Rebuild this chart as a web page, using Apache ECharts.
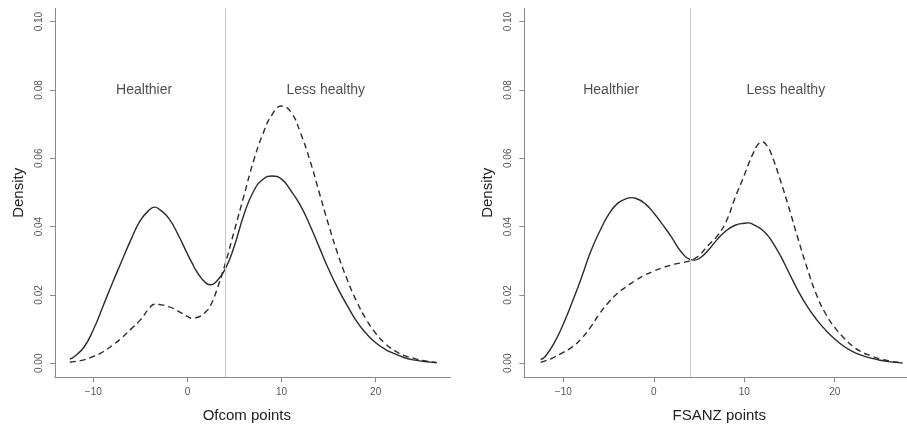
<!DOCTYPE html>
<html>
<head>
<meta charset="utf-8">
<script src="https://cdn.jsdelivr.net/npm/echarts@6/dist/echarts.min.js"></script>
<style>html,body{margin:0;padding:0;background:#fff;}#chart{width:907px;height:429px;}</style>
</head>
<body>
<div id="chart"></div>
<script>
// ---- Data ----
const xTicks = [-10, 0, 10, 20];
const yTicks = [0, 0.02, 0.04, 0.06, 0.08, 0.10];
const threshold = 4;

const ofcomX = [-12.5,-12,-11,-10,-9,-8,-7,-6,-5,-4,-3.5,-3,-2,-1,0,0.5,1,2,2.5,3,4,5,6,7,8,9,10,11,12,13,14,15,16,17,18,19,20,21,22,23,24,25,26,26.5];
const ofcomSolid = [0.0012,0.0020,0.0047,0.0098,0.0165,0.0233,0.0298,0.0362,0.0418,0.0450,0.0457,0.0451,0.0425,0.0377,0.0320,0.0293,0.0268,0.0234,0.0230,0.0237,0.0275,0.0345,0.0435,0.0502,0.0538,0.0548,0.0539,0.0505,0.0462,0.0405,0.0340,0.0275,0.0218,0.0168,0.0122,0.0087,0.0060,0.0041,0.0028,0.0017,0.0010,0.0006,0.0003,0.0002];
const ofcomDashed = [0.0003,0.0005,0.0010,0.0020,0.0033,0.0052,0.0074,0.0100,0.0127,0.0163,0.0173,0.0172,0.0166,0.0153,0.0137,0.0132,0.0134,0.0152,0.0172,0.0205,0.0290,0.0390,0.0490,0.0590,0.0670,0.0728,0.0753,0.0735,0.0675,0.0595,0.0500,0.0405,0.0318,0.0243,0.0180,0.0128,0.0088,0.0058,0.0037,0.0023,0.0015,0.0008,0.0004,0.0002];

const fsanzX = [-12.5,-12,-11,-10,-9,-8,-7,-6,-5,-4,-3,-2.5,-2,-1,0,1,2,3,4,4.5,5,6,7,8,9,10,10.5,11,11.5,12,12.5,13,14,15,16,17,18,19,20,21,22,23,24,25,26,27,27.5];
const fsanzSolid = [0.0011,0.0020,0.0060,0.0115,0.0180,0.0250,0.0325,0.0385,0.0435,0.0468,0.0482,0.0485,0.0483,0.0468,0.0440,0.0405,0.0368,0.0327,0.0304,0.0302,0.0306,0.0330,0.0362,0.0388,0.0404,0.0410,0.0411,0.0406,0.0399,0.0390,0.0377,0.0360,0.0315,0.0262,0.0210,0.0165,0.0128,0.0097,0.0071,0.0050,0.0034,0.0023,0.0015,0.0009,0.0005,0.0002,0.0001];
const fsanzDashed = [0.0003,0.0007,0.0018,0.0032,0.0048,0.0072,0.0105,0.0145,0.0178,0.0205,0.0225,0.0234,0.0243,0.0258,0.0270,0.0280,0.0288,0.0294,0.0300,0.0306,0.0315,0.0345,0.0372,0.0415,0.0485,0.0550,0.0585,0.0615,0.0640,0.0648,0.0637,0.0612,0.0535,0.0450,0.0360,0.0275,0.0200,0.0145,0.0105,0.0075,0.0050,0.0033,0.0022,0.0013,0.0007,0.0003,0.0002];

const regionLabels = ['Healthier', 'Less healthy'];
const ofcomLabelX = [-4.6, 14.7];
const fsanzLabelX = [-4.7, 14.6];
const labelY = 0.08;

const xNames = ['Ofcom points', 'FSANZ points'];
const yName = 'Density';

// ---- Chart ----
const FONT = '"Liberation Sans", Arial, Helvetica, sans-serif';
const AX = '#8a8a8a';
const INK = '#2b2b2b';

function pairs(xs, ys) { return xs.map((x, i) => [x, ys[i]]); }

function xAxisCfg(idx, min, max, name, pad) {
  return {
    type: 'value', gridIndex: idx, min: min, max: max,
    name: name, nameLocation: 'middle', nameGap: 31,
    nameTextStyle: { fontFamily: FONT, fontSize: 15, color: '#222', padding: pad },
    axisLine: { show: true, onZero: false, lineStyle: { color: AX, width: 1 } },
    axisTick: { show: true, customValues: xTicks, length: 5, lineStyle: { color: AX } },
    axisLabel: { customValues: xTicks, margin: 10, fontFamily: FONT, fontSize: 10, color: '#555',
      formatter: v => String(v).replace('-', '\u2212') },
    splitLine: { show: false }
  };
}
function yAxisCfg(idx) {
  return {
    type: 'value', gridIndex: idx, min: -0.0041, max: 0.1039,
    name: yName, nameLocation: 'middle', nameGap: 29,
    nameTextStyle: { fontFamily: FONT, fontSize: 15, color: '#222' },
    axisLine: { show: true, onZero: false, lineStyle: { color: AX, width: 1 } },
    axisTick: { show: true, customValues: yTicks, length: 5, lineStyle: { color: AX } },
    axisLabel: { customValues: yTicks, rotate: 90, margin: 11, fontFamily: FONT, fontSize: 10, color: '#555',
      formatter: v => v.toFixed(2) },
    splitLine: { show: false }
  };
}
function curve(idx, data, dashed, withLine) {
  const s = {
    type: 'line', xAxisIndex: idx, yAxisIndex: idx, data: data,
    smooth: 0.5, showSymbol: false, silent: true,
    lineStyle: { color: INK, width: 1.4, type: dashed ? [6, 4] : 'solid' },
    z: 3
  };
  if (withLine) {
    s.markLine = {
      silent: true, symbol: ['none', 'none'], label: { show: false },
      lineStyle: { color: '#c8c8c8', width: 1, type: 'solid' },
      data: [{ xAxis: threshold }]
    };
  }
  return s;
}
function textSeries(idx, xs) {
  return {
    type: 'scatter', xAxisIndex: idx, yAxisIndex: idx, symbolSize: 1, silent: true,
    itemStyle: { color: 'rgba(0,0,0,0)' },
    data: xs.map((x, i) => ({ value: [x, labelY], name: regionLabels[i] })),
    label: { show: true, position: 'inside', formatter: p => p.name,
      fontFamily: FONT, fontSize: 14, color: '#1e1e1e' }
  };
}

const chart = echarts.init(document.getElementById('chart'), null, { renderer: 'canvas' });
chart.setOption({
  backgroundColor: '#fff',
  animation: false,
  grid: [
    { left: 55, top: 8.3, width: 395.7, height: 369, outerBoundsMode: 'none', containLabel: false },
    { left: 524.3, top: 8.3, width: 390, height: 369, outerBoundsMode: 'none', containLabel: false }
  ],
  xAxis: [xAxisCfg(0, -14.07, 27.97, xNames[0], [0, 12, 0, 0]), xAxisCfg(1, -14.31, 28.80, xNames[1], [0, 0, 0, 0])],
  yAxis: [yAxisCfg(0), yAxisCfg(1)],
  series: [
    curve(0, pairs(ofcomX, ofcomSolid), false, true),
    curve(0, pairs(ofcomX, ofcomDashed), true, false),
    textSeries(0, ofcomLabelX),
    curve(1, pairs(fsanzX, fsanzSolid), false, true),
    curve(1, pairs(fsanzX, fsanzDashed), true, false),
    textSeries(1, fsanzLabelX)
  ]
});
</script>
</body>
</html>
